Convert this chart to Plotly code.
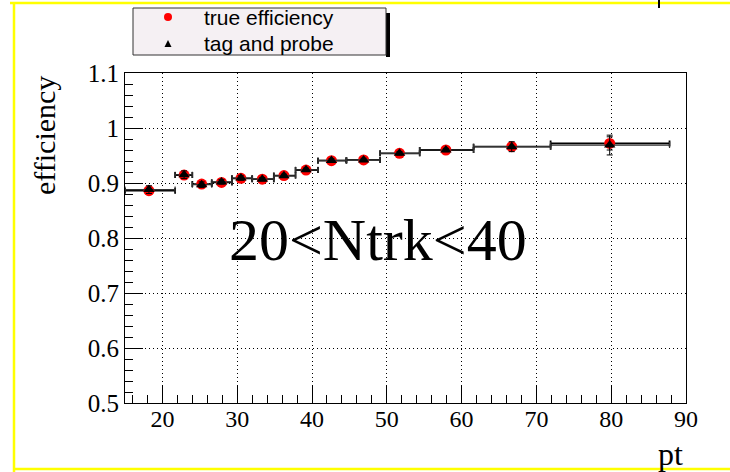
import plotly.graph_objects as go

# ---- data ----
bin_edges = [15, 21.7, 24.0, 26.6, 29.3, 32.0, 34.9, 37.8, 40.8, 44.6, 49.1, 54.4, 61.6, 71.9, 87.8]
pt_mean = [18.2, 22.9, 25.25, 27.9, 30.5, 33.35, 36.25, 39.2, 42.6, 46.9, 51.7, 57.9, 66.7, 79.8]
true_eff = [0.886, 0.9145, 0.898, 0.901, 0.9085, 0.907, 0.9135, 0.9236, 0.9406, 0.942, 0.954, 0.960, 0.966, 0.972]
true_err = [0.004, 0.004, 0.003, 0.003, 0.003, 0.003, 0.003, 0.003, 0.003, 0.003, 0.003, 0.003, 0.006, 0.012]
tp_eff = [0.888, 0.915, 0.897, 0.902, 0.909, 0.907, 0.913, 0.924, 0.941, 0.942, 0.954, 0.960, 0.966, 0.969]
tp_err = [0.007, 0.007, 0.005, 0.004, 0.004, 0.003, 0.003, 0.003, 0.003, 0.003, 0.003, 0.003, 0.009, 0.018]
x_ticks = [20, 30, 40, 50, 60, 70, 80, 90]
y_ticks = [0.5, 0.6, 0.7, 0.8, 0.9, 1.0, 1.1]
y_tick_text = ["0.5", "0.6", "0.7", "0.8", "0.9", "1", "1.1"]
legend_names = ["true efficiency", "tag and probe"]
label_text = "20&lt;Ntrk&lt;40"

xerr_minus = [m - lo for m, lo in zip(pt_mean, bin_edges[:-1])]
xerr_plus = [hi - m for m, hi in zip(pt_mean, bin_edges[1:])]

W, H = 730, 472
L, R, T, B = 125, 686, 73, 403


def px(xp):
    return (xp - L) / (R - L)


def py(yp):
    return (B - yp) / (B - T)


fig = go.Figure()

fig.add_trace(go.Scatter(
    x=pt_mean, y=true_eff, mode="markers", name=legend_names[0],
    marker=dict(symbol="circle", size=11, color="#ff0000"),
    error_x=dict(type="data", symmetric=False, array=xerr_plus, arrayminus=xerr_minus,
                 color="black", thickness=1.8, width=3),
    error_y=dict(type="data", array=true_err, color="black", thickness=1, width=3),
    showlegend=False, cliponaxis=False,
))
fig.add_trace(go.Scatter(
    x=pt_mean, y=tp_eff, mode="markers", name=legend_names[1],
    marker=dict(symbol="triangle-up", size=10, color="black"),
    error_x=dict(type="data", symmetric=False, array=xerr_plus, arrayminus=xerr_minus,
                 color="#333333", thickness=1.2, width=3),
    error_y=dict(type="data", array=tp_err, color="black", thickness=1, width=3),
    showlegend=False, cliponaxis=False,
))

serif = "Liberation Serif, Times New Roman, serif"
sans = "Liberation Sans, Arial, sans-serif"

fig.update_layout(
    width=W, height=H,
    margin=dict(l=L, r=W - R, t=T, b=H - B, pad=0),
    paper_bgcolor="white", plot_bgcolor="white",
    showlegend=False,
    xaxis=dict(
        range=[15, 90], tickmode="array", tickvals=x_ticks,
        ticks="inside", ticklen=18, tickwidth=1, tickcolor="black",
        showline=True, linecolor="black", linewidth=1, mirror=True,
        showgrid=True, gridcolor="black", gridwidth=1, griddash="1px,3px",
        zeroline=False, ticklabelstandoff=-6,
        tickfont=dict(family=serif, size=24, color="black"),
        minor=dict(dtick=2, tick0=0, ticks="inside", ticklen=8, tickcolor="black", tickwidth=1, showgrid=False),
    ),
    yaxis=dict(
        range=[0.5, 1.1], tickmode="array", tickvals=y_ticks, ticktext=y_tick_text,
        ticks="inside", ticklen=18, tickwidth=1, tickcolor="black",
        showline=True, linecolor="black", linewidth=1, mirror=True,
        showgrid=True, gridcolor="black", gridwidth=1, griddash="1px,3px",
        zeroline=False,
        tickfont=dict(family=serif, size=25, color="black"),
        minor=dict(dtick=0.02, tick0=0.5, ticks="inside", ticklen=8, tickcolor="black", tickwidth=1, showgrid=False),
    ),
)

# axis titles
fig.add_annotation(text="efficiency", xref="paper", yref="paper", x=px(44), y=py(136),
                   textangle=-90, showarrow=False, xanchor="center", yanchor="middle",
                   font=dict(family=serif, size=30, color="black"))
fig.add_annotation(text="pt", xref="paper", yref="paper", x=px(685), y=py(454),
                   showarrow=False, xanchor="right", yanchor="middle",
                   font=dict(family=serif, size=32, color="black"))

# big label
fig.add_annotation(text=label_text, xref="paper", yref="paper", x=px(378), y=py(240),
                   showarrow=False, xanchor="center", yanchor="middle",
                   font=dict(family=serif, size=60, color="black"))

# yellow frame of the canvas
yellow = "#ffff00"
fig.add_shape(type="line", xref="paper", yref="paper", x0=px(10), x1=px(730), y0=py(3), y1=py(3),
              line=dict(color=yellow, width=2.5))
fig.add_shape(type="line", xref="paper", yref="paper", x0=px(14), x1=px(14), y0=py(3), y1=py(472),
              line=dict(color=yellow, width=2.5))
fig.add_shape(type="line", xref="paper", yref="paper", x0=px(14), x1=px(730), y0=py(469), y1=py(469),
              line=dict(color=yellow, width=2.5))
# small black mark at top edge
fig.add_shape(type="line", xref="paper", yref="paper", x0=px(659), x1=px(659), y0=py(0), y1=py(8),
              line=dict(color="black", width=2))

# legend box with shadow
fig.add_shape(type="rect", xref="paper", yref="paper", x0=px(386), x1=px(390), y0=py(13), y1=py(57),
              line=dict(width=0), fillcolor="black")
fig.add_shape(type="rect", xref="paper", yref="paper", x0=px(133), x1=px(386), y0=py(8), y1=py(55),
              line=dict(color="#333333", width=1), fillcolor="#f5f0f3")
# legend markers
fig.add_shape(type="circle", xref="paper", yref="paper", x0=px(164), x1=px(172), y0=py(13), y1=py(21),
              line=dict(width=0), fillcolor="#ff0000")
fig.add_shape(type="path", xref="paper", yref="paper",
              path=f"M {px(164.5)},{py(47)} L {px(171.5)},{py(47)} L {px(168)},{py(40)} Z",
              line=dict(width=0), fillcolor="black")
fig.add_annotation(text=legend_names[0], xref="paper", yref="paper", x=px(202), y=py(17),
                   showarrow=False, xanchor="left", yanchor="middle",
                   font=dict(family=sans, size=21, color="black"))
fig.add_annotation(text=legend_names[1], xref="paper", yref="paper", x=px(202), y=py(43),
                   showarrow=False, xanchor="left", yanchor="middle",
                   font=dict(family=sans, size=21, color="black"))

fig.write_html("out.html")
